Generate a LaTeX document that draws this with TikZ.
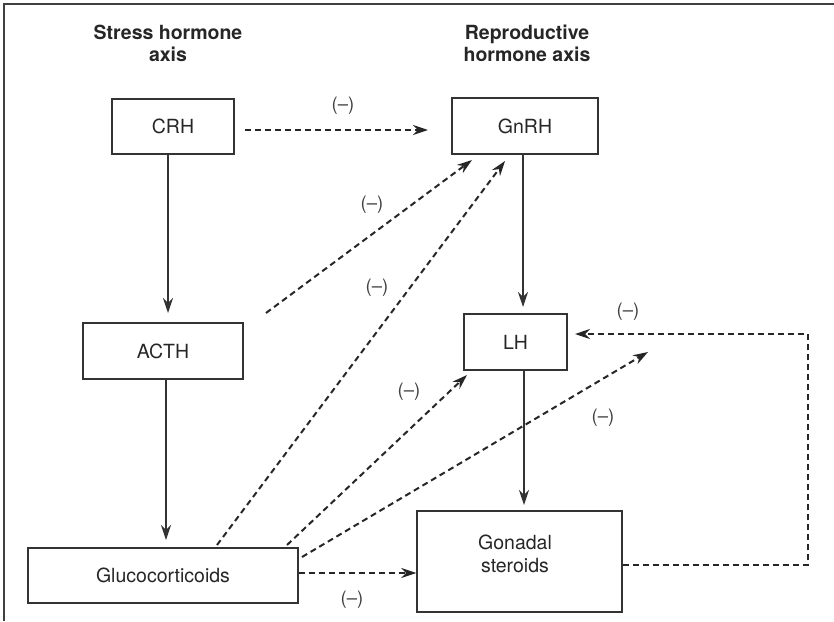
\documentclass[tikz,border=0pt]{standalone}
\usepackage{fontspec}
\setmainfont{TeX Gyre Heros}
\usetikzlibrary{arrows.meta}
\begin{document}
\begin{tikzpicture}[x=1pt,y=-1pt,
  every node/.style={font=\fontsize{19.5}{23}\selectfont, text=black!85},
  box/.style={draw=black!80, line width=1.4pt, inner sep=0pt, anchor=center},
  head/.style={font=\bfseries\fontsize{19.5}{22}\selectfont, align=center, text=black!85},
  lbl/.style={font=\fontsize{18.5}{20}\selectfont, text=black!75},
  solidarr/.style={draw=black!80, line width=1.4pt, -{Stealth[length=15pt,width=10pt]}},
  dasharr/.style={draw=black!85, line width=2pt, dash pattern=on 6pt off 4pt, -{Stealth[length=15pt,width=10pt]}},
  dashline/.style={draw=black!85, line width=2pt, dash pattern=on 6pt off 4pt}
]
\useasboundingbox (0,0) rectangle (834,621);
\draw[draw=black!75, line width=2pt] (4,621) -- (4,4) -- (834,4);

\node[head] (hs) at (168,43) {Stress hormone\\axis};
\node[head] (hr) at (527,43) {Reproductive\\hormone axis};

\node[box, minimum width=122pt, minimum height=55pt] (crh) at (173,126.5) {CRH};
\node[box, minimum width=146pt, minimum height=56pt] (gnrh) at (525,126) {GnRH};
\node[box, minimum width=160pt, minimum height=56pt] (acth) at (163,351) {ACTH};
\node[box, minimum width=103pt, minimum height=56pt] (lh) at (515.5,342) {LH};
\node[box, minimum width=270pt, minimum height=55pt] (gluc) at (163,575.5) {Glucocorticoids};
\node[box, minimum width=205pt, minimum height=101pt] (gon) at (519.5,561.5) {};
\node[align=center] (gontext) at (515,554) {Gonadal\\steroids};

% solid arrows
\draw[solidarr] (crh.south -| 168,0) -- (168,313) coordinate (acthin);
\draw[solidarr] (acth.south -| 166,0) -- (166,540) coordinate (glucin);
\draw[solidarr] (gnrh.south -| 523,0) -- (523,307) coordinate (lhin);
\draw[solidarr] (lh.south -| 524,0) -- (524,505) coordinate (gonin);

% dashed arrows
\coordinate (c1s) at (245,130);
\coordinate (c1e) at (428,130);
\draw[dasharr] (c1s) -- (c1e);
\node[lbl] (l1) at (343,106) {(--)};

\coordinate (c2s) at (266,313);
\coordinate (c2e) at (472,160);
\draw[dasharr] (c2s) -- (c2e);
\node[lbl] (l2) at (372,205) {(--)};

\coordinate (c3s) at (217,545);
\coordinate (c3e) at (505,161);
\draw[dasharr] (c3s) -- (c3e);
\node[lbl] (l3) at (377,288) {(--)};

\coordinate (c4s) at (287,545);
\coordinate (c4e) at (467,375);
\draw[dasharr] (c4s) -- (c4e);
\node[lbl] (l4) at (409,392) {(--)};

\coordinate (c5s) at (302,557);
\coordinate (c5e) at (648,352);
\draw[dasharr] (c5s) -- (c5e);
\node[lbl] (l5) at (603,418) {(--)};

\draw[dasharr] (gluc.east |- 0,573) -- (gon.west |- 0,573);
\node[lbl] (l6) at (352,600) {(--)};

\coordinate (fb1) at (808,565);
\coordinate (fb2) at (808,334);
\coordinate (fbe) at (575,334);
\draw[dasharr] (gon.east |- fb1) -- (fb1) -- (fb2) -- (fbe);
\node[lbl] (l7) at (628,312) {(--)};
\end{tikzpicture}
\end{document}
